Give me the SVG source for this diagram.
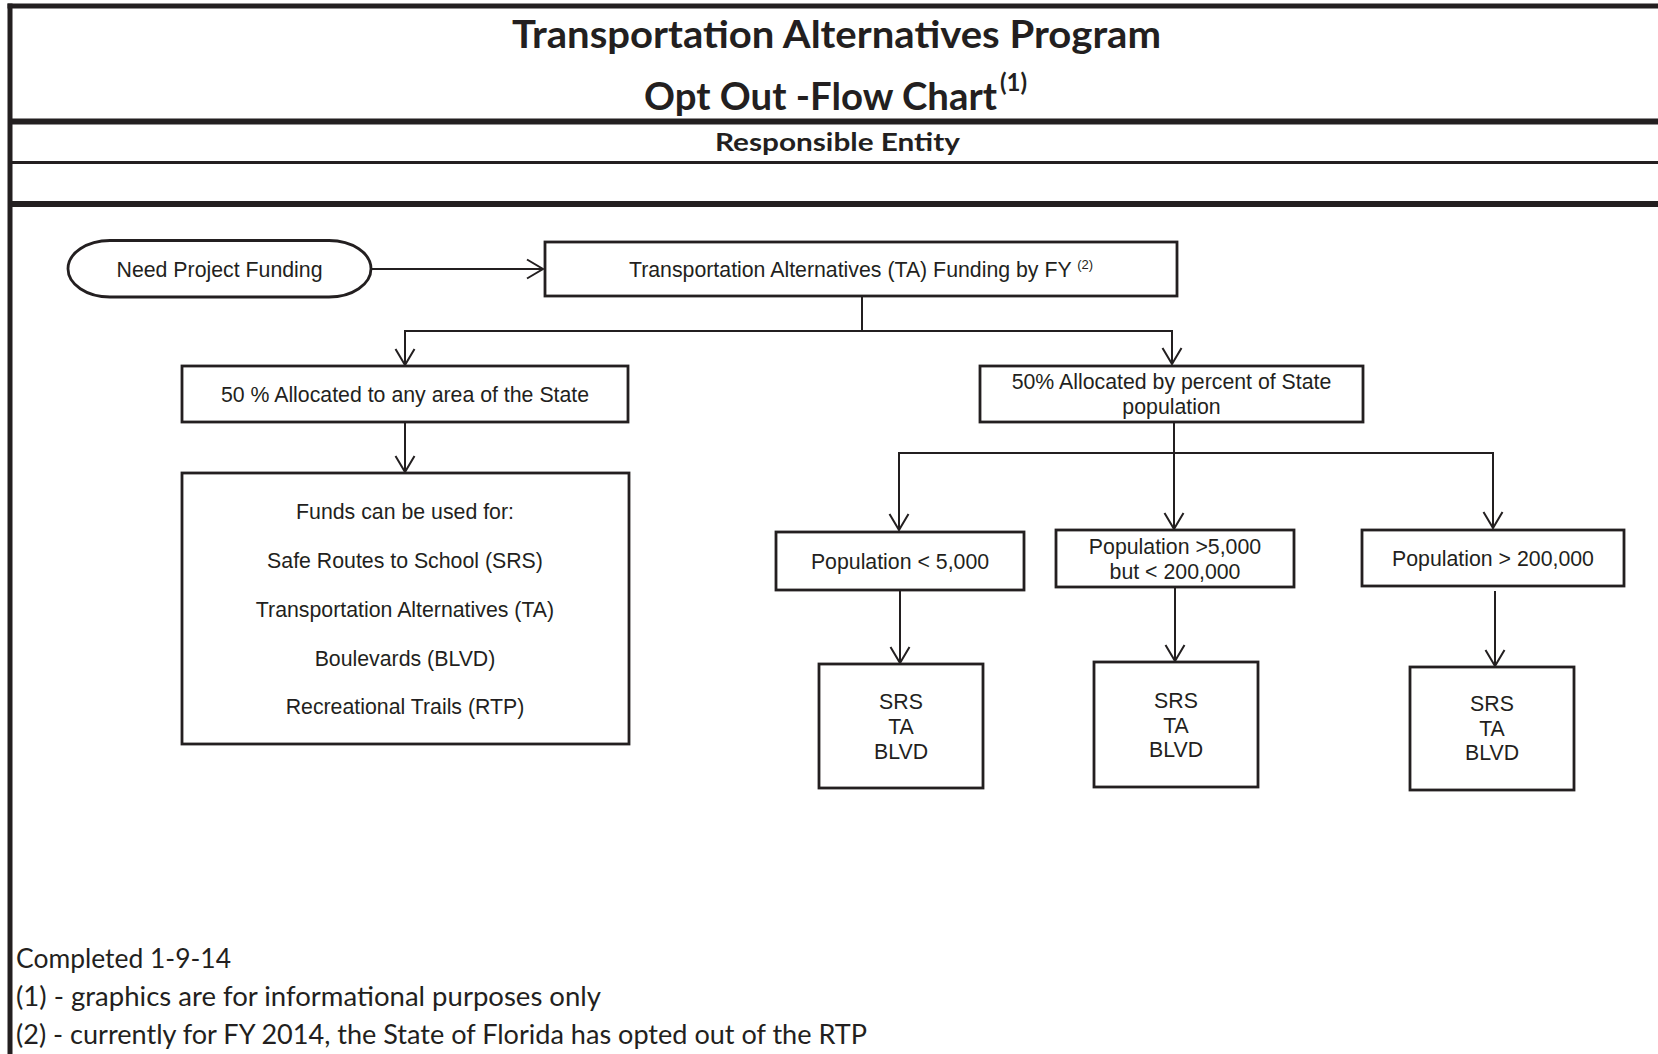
<svg xmlns="http://www.w3.org/2000/svg" width="1658" height="1054" viewBox="0 0 1658 1054">
<style>
.frame{stroke:#231f20;fill:none}
.box{fill:#fff;stroke:#231f20;stroke-width:2.8}
.conn{fill:none;stroke:#231f20;stroke-width:2}
.t{font-family:'Liberation Sans',Arial,sans-serif;font-size:21.3px;fill:#231f20;text-anchor:middle}
.h{font-family:Lato,'Open Sans',sans-serif;font-weight:bold;fill:#231f20}
.f{font-family:Lato,'Open Sans',sans-serif;font-size:26px;fill:#231f20}
</style>
<defs>
<marker id="arr" markerUnits="userSpaceOnUse" markerWidth="24" markerHeight="24" viewBox="-19 -12 22 24" refX="0" refY="0" orient="auto">
<path d="M-16,-9.5 L0,0 L-16,9.5" fill="none" stroke="#231f20" stroke-width="2"/>
</marker>
</defs>
<rect x="0" y="0" width="1658" height="1054" fill="#fff"/>
<g id="frame">
<line class="frame" x1="7.5" y1="6" x2="1658" y2="6" stroke-width="5"/>
<line class="frame" x1="10" y1="3.5" x2="10" y2="1054" stroke-width="5"/>
<line class="frame" x1="10" y1="121.5" x2="1658" y2="121.5" stroke-width="6"/>
<line class="frame" x1="10" y1="162.5" x2="1658" y2="162.5" stroke-width="3"/>
<line class="frame" x1="10" y1="204" x2="1658" y2="204" stroke-width="6"/>
</g>
<g id="header">
<text class="h" x="836.5" y="48" font-size="38" text-anchor="middle" textLength="649" lengthAdjust="spacingAndGlyphs">Transportation Alternatives Program</text>
<text class="h" x="644" y="110" font-size="38" textLength="353" lengthAdjust="spacingAndGlyphs">Opt Out -Flow Chart</text>
<text class="h" x="1000" y="91" font-size="24">(1)</text>
<text class="h" x="837.5" y="151" font-size="25" text-anchor="middle" textLength="245" lengthAdjust="spacingAndGlyphs">Responsible Entity</text>
</g>
<g id="connectors">
<path class="conn" d="M371,269 H543" marker-end="url(#arr)"/>
<path class="conn" d="M862,296 V331 H405 V365" marker-end="url(#arr)"/>
<path class="conn" d="M862,331 H1172 V364" marker-end="url(#arr)"/>
<path class="conn" d="M405,422 V472" marker-end="url(#arr)"/>
<path class="conn" d="M1174,422 V529" marker-end="url(#arr)"/>
<path class="conn" d="M1174,453 H899 V530" marker-end="url(#arr)"/>
<path class="conn" d="M1174,453 H1493 V528" marker-end="url(#arr)"/>
<path class="conn" d="M900,590 V663" marker-end="url(#arr)"/>
<path class="conn" d="M1175,587 V661" marker-end="url(#arr)"/>
<path class="conn" d="M1495,591 V666" marker-end="url(#arr)"/>
</g>
<g id="start">
<rect class="box" x="68" y="240.5" width="303" height="56.5" rx="42" ry="28.25"/>
<text class="t" x="219.5" y="276.5">Need Project Funding</text>
</g>
<g id="ta-funding">
<rect class="box" x="545" y="242" width="632" height="54"/>
<text class="t" x="861" y="276.5">Transportation Alternatives (TA) Funding by FY <tspan font-size="13" dy="-8">(2)</tspan></text>
</g>
<g id="any-area">
<rect class="box" x="182" y="366" width="446" height="56"/>
<text class="t" x="405" y="401.5">50 % Allocated to any area of the State</text>
</g>
<g id="by-population">
<rect class="box" x="980" y="366" width="383" height="56"/>
<text class="t" x="1171.5" y="389">50% Allocated by percent of State</text>
<text class="t" x="1171.5" y="414">population</text>
</g>
<g id="funds-use">
<rect class="box" x="182" y="473" width="447" height="271"/>
<text class="t" x="405" y="519">Funds can be used for:</text>
<text class="t" x="405" y="567.5">Safe Routes to School (SRS)</text>
<text class="t" x="405" y="616.5">Transportation Alternatives (TA)</text>
<text class="t" x="405" y="666">Boulevards (BLVD)</text>
<text class="t" x="405" y="714">Recreational Trails (RTP)</text>
</g>
<g id="pop-small">
<rect class="box" x="776" y="532" width="248" height="58"/>
<text class="t" x="900" y="568.5">Population &lt; 5,000</text>
</g>
<g id="pop-mid">
<rect class="box" x="1056" y="530" width="238" height="57"/>
<text class="t" x="1175" y="554">Population &gt;5,000</text>
<text class="t" x="1175" y="578.5">but &lt; 200,000</text>
</g>
<g id="pop-large">
<rect class="box" x="1362" y="530" width="262" height="56"/>
<text class="t" x="1493" y="565.5">Population &gt; 200,000</text>
</g>
<g id="uses-small">
<rect class="box" x="819" y="664" width="164" height="124"/>
<text class="t" x="901" y="709">SRS</text>
<text class="t" x="901" y="734">TA</text>
<text class="t" x="901" y="759">BLVD</text>
</g>
<g id="uses-mid">
<rect class="box" x="1094" y="662" width="164" height="125"/>
<text class="t" x="1176" y="707.5">SRS</text>
<text class="t" x="1176" y="732.5">TA</text>
<text class="t" x="1176" y="756.5">BLVD</text>
</g>
<g id="uses-large">
<rect class="box" x="1410" y="667" width="164" height="123"/>
<text class="t" x="1492" y="710.5">SRS</text>
<text class="t" x="1492" y="736">TA</text>
<text class="t" x="1492" y="760">BLVD</text>
</g>
<g id="footer">
<text class="f" x="16" y="968" textLength="215" lengthAdjust="spacingAndGlyphs">Completed 1-9-14</text>
<text class="f" x="16" y="1006" textLength="585" lengthAdjust="spacingAndGlyphs">(1) - graphics are for informational purposes only</text>
<text class="f" x="16" y="1044" textLength="851" lengthAdjust="spacingAndGlyphs">(2) - currently for FY 2014, the State of Florida has opted out of the RTP</text>
</g>
</svg>
